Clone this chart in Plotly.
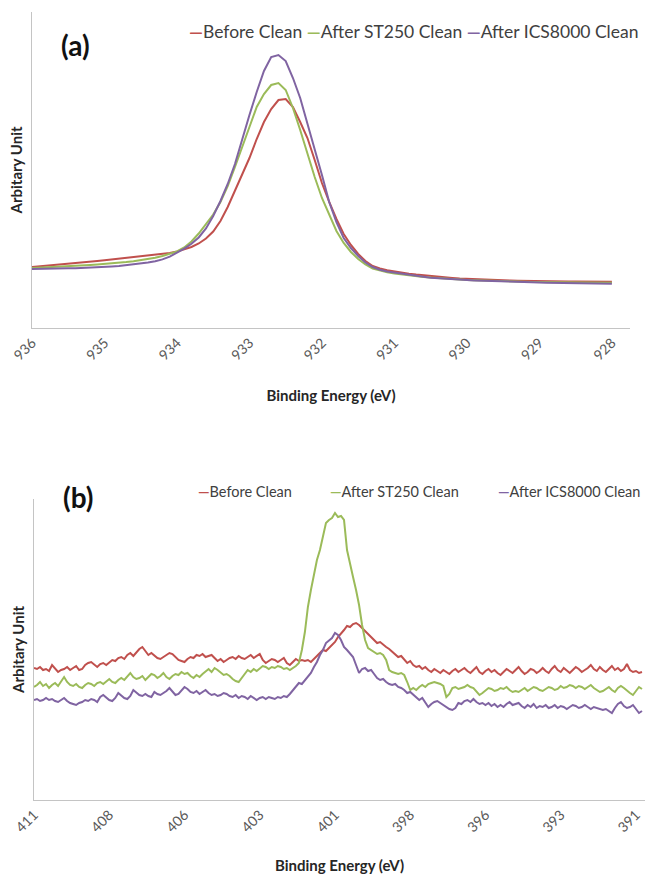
import numpy as np
import plotly.graph_objects as go

FONT = "Lato"
RED, GREEN, PURPLE = "#C0504D", "#9BBB59", "#8064A2"
AXIS_GREY = "#C4C4C4"

# ---------------- (a) Cu 2p region, 0.1 eV steps ----------------
energy_a = np.round(np.arange(936.0, 927.95, -0.1), 1)
ticks_a = [936, 935, 934, 933, 932, 931, 930, 929, 928]
ticktext_a = ["936", "935", "934", "933", "932", "931", "930", "929", "928"]

before_a = [
    61, 61.6, 62.2, 62.8, 63.4, 64, 64.7, 65.5, 66.2, 67,
    67.8, 68.6, 69.5, 70.4, 71.3, 72.2, 72.8, 73.4, 74, 75,
    76.5, 78.5, 81, 84.5, 89.5, 96.5, 107, 121, 137, 153,
    170, 189, 206, 219, 228, 229, 221, 206, 190, 168,
    145, 126, 109, 94, 83, 74, 67, 62, 59.5, 57.8,
    56.5, 55.3, 54.3, 53.4, 52.6, 51.8, 51.2, 50.6, 50.1, 49.6,
    49.2, 48.8, 48.5, 48.2, 47.9, 47.7, 47.5, 47.3, 47.1, 47.0,
    46.9, 46.8, 46.7, 46.6, 46.5, 46.5, 46.4, 46.4, 46.3, 46.3,
    46.2,
]
st250_a = [
    60, 60.3, 60.6, 61, 61.4, 61.8, 62.2, 62.6, 63, 63.5,
    64, 64.5, 65.2, 66, 66.8, 67.8, 68.8, 70.2, 72, 74,
    76.5, 80.5, 86.5, 94.5, 103.5, 113.5, 126, 142, 161, 180,
    201, 221, 234, 243, 245, 238, 220, 198, 174, 151,
    130, 113, 97, 85, 76, 69, 63.5, 59.5, 57.3, 55.8,
    54.6, 53.6, 52.7, 51.9, 51.1, 50.4, 49.8, 49.3, 48.8, 48.4,
    48, 47.7, 47.4, 47.1, 46.9, 46.7, 46.5, 46.4, 46.2, 46.1,
    46.0, 45.9, 45.8, 45.7, 45.6, 45.6, 45.5, 45.5, 45.4, 45.4,
    45.3,
]
ics8000_a = [
    59, 59, 59.3, 59.5, 59.6, 59.7, 59.8, 60, 60.2, 60.6,
    61, 61.5, 62, 62.8, 63.6, 64.5, 65.4, 66.8, 68.6, 71.4,
    75, 79.3, 84.2, 90.5, 99.5, 112, 127, 144, 164, 189,
    213, 236, 257, 271, 273, 267, 250, 230, 205, 179,
    153, 126, 106, 90, 80, 72, 65.5, 61, 58.2, 56.5,
    55.3, 54.2, 53.2, 52.3, 51.2, 50.3, 49.7, 49.2, 48.7, 48.3,
    48, 47.6, 47.3, 47, 46.6, 46.4, 46.2, 46, 45.8, 45.6,
    45.4, 45.3, 45.2, 45, 44.9, 44.8, 44.7, 44.6, 44.4, 44.3,
    44.2,
]

# ---------------- (b) N 1s region, 0.1 eV steps ----------------
energy_b = np.round(np.arange(411.0, 390.75, -0.1), 1)
ticks_b = [411, 408.5, 406, 403.5, 401, 398.5, 396, 393.5, 391]
ticktext_b = ["411", "408", "406", "403", "401", "398", "396", "393", "391"]

before_b = [
    132, 131, 133, 130, 131, 129, 135, 132, 128, 130,
    131, 133, 130, 132, 134, 130, 131, 135, 137, 138,
    135, 133, 136, 137, 135, 138, 140, 139, 142, 143,
    141, 145, 147, 144, 148, 151, 153, 149, 145, 147,
    144, 142, 141, 143, 145, 147, 146, 143, 140, 139,
    138, 141, 143, 142, 145, 144, 146, 143, 144, 145,
    142, 139, 141, 138, 140, 142, 143, 141, 144, 142,
    141, 143, 145, 142, 144, 146, 140, 137, 139, 141,
    140, 138, 140, 142, 137, 135, 138, 141, 139, 140,
    139, 140, 138, 141, 144, 147, 150, 149, 152, 155,
    158, 163, 166, 170, 174, 173, 176, 177, 175, 172,
    169, 166, 163, 160, 157, 158, 155, 153, 151, 148,
    146, 143, 144, 140, 137, 139, 135, 133, 134, 131,
    133, 130, 128, 131, 129, 127, 130, 128, 126, 129,
    131, 128, 130, 132, 129, 127, 130, 133, 128, 126,
    129, 131, 128, 130, 127, 125, 128, 131, 129, 127,
    130, 133, 129, 126, 128, 131, 130, 127, 129, 132,
    129, 127, 131, 134, 130, 128, 132, 129, 127, 130,
    133, 131, 128, 130, 132, 135, 131, 129, 133, 130,
    128, 131, 134, 130, 132, 129, 131, 136, 130, 128,
    129, 127, 128,
]
st250_b = [
    113, 115, 118, 114, 116, 112, 115, 117, 114, 119,
    123, 118, 115, 114, 116, 113, 112, 115, 117, 116,
    114, 117, 118, 116, 119, 121, 118, 117, 120, 122,
    120, 124, 127, 123, 121, 122, 124, 120, 123, 126,
    125, 122, 124, 127, 123, 121, 124, 126, 125, 128,
    126, 127, 124, 122, 125, 123, 126, 129, 131, 128,
    132, 130, 127, 125, 126, 124, 121, 119, 118, 122,
    126, 130, 128, 131, 129, 132, 134, 133, 131, 133,
    132, 134, 133, 131, 132, 130, 132, 134, 137, 150,
    168, 193, 210, 227, 240, 250, 265, 277, 280, 282,
    287, 283, 284, 280, 250, 238, 223, 210, 195, 175,
    160, 152, 150, 148, 146, 147, 145, 140, 130, 128,
    127, 126, 127, 125, 118, 110, 112, 110, 113, 115,
    113, 116, 117, 118, 117, 116, 114, 103, 106, 112,
    113, 111, 112, 113, 115, 113, 112, 108, 105, 107,
    110, 112, 111, 109, 110, 112, 111, 113, 110, 108,
    109, 108, 110, 112, 109, 111, 113, 112, 110, 109,
    111, 113, 112, 110, 111, 114, 112, 113, 115, 114,
    112, 114, 113, 111, 113, 115, 112, 110, 108, 109,
    111, 113, 110, 108, 112, 114, 112, 109, 107, 105,
    109, 113, 111,
]
ics8000_b = [
    100, 101, 99, 100, 102, 100, 101, 99, 98, 100,
    102, 99, 97, 96, 95, 97, 98, 100, 99, 101,
    100, 98, 103, 105, 102, 100, 99, 102, 107, 104,
    102, 101, 104, 110, 107, 105, 104, 106, 104, 103,
    108, 106, 105, 107, 109, 112, 108, 105, 106, 110,
    113, 111, 108, 107, 109, 106, 108, 110, 107, 105,
    106, 104, 105, 107, 106, 104, 103, 105, 102, 104,
    103, 101, 104, 102, 100, 102, 103, 101, 103, 102,
    101, 103, 102, 104, 103, 106, 110, 114, 117, 116,
    120, 123, 127, 133, 138, 145, 150, 157, 160, 162,
    167, 165, 160, 153, 150, 147, 143, 135, 127, 131,
    132, 129, 130, 126, 122, 120, 121, 118, 116, 115,
    116, 113, 112, 110, 107, 108, 105, 103, 100, 102,
    98, 93, 96, 98, 99, 97, 95, 93, 91, 90,
    92, 97, 96, 99, 100, 98, 101, 98, 96, 97,
    95, 97, 94, 96, 93, 95, 93, 96, 98, 95,
    96, 97, 94, 92, 95, 93, 96, 92, 94, 93,
    95, 92, 93, 95, 92, 94, 93, 91, 93, 95,
    94, 92, 93, 95, 93, 91, 93, 92, 91, 90,
    91, 89, 87, 92, 96, 98, 94, 92, 93, 95,
    91, 87, 89,
]

series_names = ["Before Clean", "After ST250 Clean", "After ICS8000 Clean"]
colors = [RED, GREEN, PURPLE]

W, H = 647, 882


def px_x(p):
    return p / W


def px_y(p):
    return (H - p) / H


fig = go.Figure()

for name, col, ys in zip(series_names, colors, [before_a, st250_a, ics8000_a]):
    fig.add_trace(go.Scatter(x=energy_a, y=ys, name=name, mode="lines",
                             line=dict(color=col, width=2),
                             xaxis="x", yaxis="y", showlegend=False))

for name, col, ys in zip(series_names, colors, [before_b, st250_b, ics8000_b]):
    fig.add_trace(go.Scatter(x=energy_b, y=ys, name=name, mode="lines",
                             line=dict(color=col, width=2),
                             xaxis="x2", yaxis="y2", showlegend=False))

tick_font = dict(family=FONT, size=14, color="#595959")
title_font = dict(family=FONT, size=15, color="#262626", weight="bold")

common_x = dict(showline=True, linecolor=AXIS_GREY, linewidth=1.3, ticks="",
                showgrid=False, zeroline=False, tickangle=-45, tickfont=tick_font,
                tickmode="array", automargin=False)
common_y = dict(showline=True, linecolor=AXIS_GREY, linewidth=1.3, ticks="",
                showgrid=False, zeroline=False, showticklabels=False, automargin=False)

fig.update_layout(
    template="none",
    width=W, height=H,
    margin=dict(l=0, r=0, t=0, b=0, autoexpand=False),
    paper_bgcolor="white", plot_bgcolor="white",
    font=dict(family=FONT),
    xaxis=dict(domain=[px_x(32), px_x(630)], range=[936.0, 927.75], anchor="y",
               tickvals=ticks_a, ticktext=ticktext_a,
               title=dict(text="Binding Energy (eV)", font=title_font, standoff=28),
               **common_x),
    yaxis=dict(domain=[px_y(328), px_y(12)], range=[0, 316], anchor="x",
               title=dict(text="Arbitary Unit", font=title_font, standoff=4),
               **common_y),
    xaxis2=dict(domain=[px_x(34), px_x(645)], range=[411.0, 390.70], anchor="y2",
                tickvals=ticks_b, ticktext=ticktext_b,
                title=dict(text="Binding Energy (eV)", font=title_font, standoff=26),
                **common_x),
    yaxis2=dict(domain=[px_y(800), px_y(499)], range=[0, 301], anchor="x2",
                title=dict(text="Arbitary Unit", font=title_font, standoff=4),
                **common_y),
)

# Panel letters
for label, (lx, ly) in {"(a)": (75, 45), "(b)": (78, 497)}.items():
    fig.add_annotation(text=label, x=px_x(lx), y=px_y(ly), xref="paper", yref="paper",
                       showarrow=False, xanchor="center", yanchor="middle",
                       font=dict(family=FONT, size=28, color="#111111", weight="bold"))


def key(name, col):
    return f'<span style="color:{col}"><b>\u2014</b></span>{name}'


# Legend of panel (a): entries packed in one row
fig.add_annotation(text=" ".join(key(n, c) for n, c in zip(series_names, colors)),
                   x=px_x(640), y=px_y(32), xref="paper", yref="paper",
                   showarrow=False, xanchor="right", yanchor="middle",
                   font=dict(family=FONT, size=17.5, color="#404040"))

# Legend of panel (b): entries spread across the top
for n, c, lx in zip(series_names, colors, [196, 328, 496]):
    fig.add_annotation(text=key(n, c), x=px_x(lx), y=px_y(492), xref="paper", yref="paper",
                       showarrow=False, xanchor="left", yanchor="middle",
                       font=dict(family=FONT, size=14.5, color="#404040"))

fig.write_html("out.html")
